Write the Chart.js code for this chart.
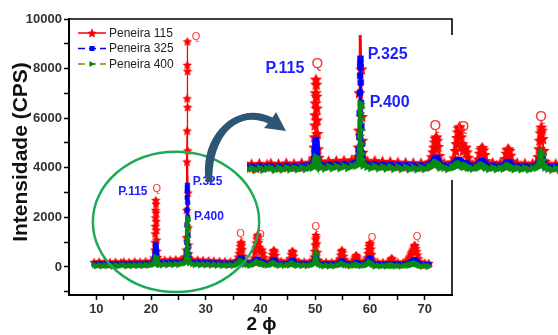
<!DOCTYPE html>
<html lang="pt">
<head>
<meta charset="UTF-8">
<title>DRX - Peneiras 115, 325 e 400</title>
<script src="https://cdn.jsdelivr.net/npm/chart.js"></script>
<style>
  body { margin: 0; background: #fff; }
  #wrap { position: relative; width: 558px; height: 335px; overflow: hidden; }
  #main { position: absolute; left: 0; top: 0; }
  #inset { position: absolute; left: 247px; top: 35px; background: #fff; }
  #arrow { position: absolute; left: 0; top: 0; pointer-events: none; }
</style>
</head>
<body>
<div id="wrap">
  <canvas id="main" width="558" height="335"></canvas>
  <canvas id="inset" width="311" height="145"></canvas>
  <canvas id="arrow" width="558" height="335"></canvas>
</div>
<script>
// 2 theta (graus)
const twoTheta = [
  9.6, 10, 10.5, 11, 11.5, 12, 12.5, 13, 13.5, 14, 14.5, 15, 15.5, 16, 16.5, 17, 17.5, 18, 18.5, 19, 19.5, 20,
  20.4, 20.55, 20.65, 20.7, 20.74, 20.77, 20.8, 20.83, 20.86, 20.89, 20.92, 20.95, 20.98, 21.02, 21.1, 21.2, 21.35,
  21.5, 22, 22.5, 23, 23.5, 24, 24.5, 25, 25.5, 26,
  26.3, 26.4, 26.45, 26.5, 26.55, 26.58, 26.6, 26.62, 26.64, 26.66, 26.68, 26.7, 26.75, 26.8, 26.85, 26.9, 27.0,
  27.5, 28, 28.5, 29, 29.5, 30, 30.5, 31, 31.5, 32, 32.5, 33, 33.5, 34, 34.5, 35, 35.5,
  35.8, 35.95, 36.1, 36.2, 36.3, 36.4, 36.5, 36.6, 36.7, 36.85, 37.0,
  37.5, 38, 38.5,
  38.85, 39.0, 39.1, 39.2, 39.3, 39.4, 39.5, 39.6, 39.7, 39.85, 40.0, 40.15, 40.3, 40.45, 40.6, 40.8,
  41.2, 41.7,
  42.0, 42.15, 42.3, 42.45, 42.6, 42.75, 42.9,
  43.3, 43.8, 44.3, 44.8, 45.2,
  45.45, 45.6, 45.72, 45.85, 45.98, 46.1, 46.25,
  46.6, 47, 47.5, 48, 48.5, 49, 49.5,
  49.75, 49.85, 49.95, 50.05, 50.12, 50.2, 50.3, 50.42, 50.6,
  51, 51.5, 52, 52.5, 53, 53.5, 54,
  54.45, 54.6, 54.75, 54.9, 55.05, 55.2, 55.4,
  55.8, 56.3, 56.8,
  57.15, 57.3, 57.45, 57.6, 57.75, 57.9,
  58.3, 58.8, 59.2,
  59.45, 59.6, 59.72, 59.82, 59.92, 60.0, 60.1, 60.22, 60.35, 60.5,
  60.9, 61.4, 61.9, 62.4, 62.9, 63.3,
  63.65, 63.8, 63.95, 64.1, 64.25,
  64.6, 65.1, 65.6, 66.1, 66.6,
  66.95, 67.15, 67.35, 67.5, 67.65, 67.8, 67.95, 68.05, 68.15, 68.25, 68.4, 68.55, 68.7, 68.9, 69.1,
  69.5, 70, 70.5, 70.8
];

// Intensidade (CPS)
const peneira115 = [
  200, 120, 220, 110, 210, 130, 200, 100, 215, 120, 190, 225, 115, 205, 125, 230, 140, 215, 130, 235, 150, 240,
  230, 380, 700, 1000, 1350, 1650, 2000, 2300, 2700, 2550, 2200, 1850, 1500, 1100, 650, 400, 260,
  270, 180, 290, 190, 300, 200, 310, 210, 320, 330,
  420, 700, 1200, 2300, 4250, 5500, 6800, 8150, 9100, 7900, 6450, 4700, 3000, 1600, 900, 550, 350,
  290, 200, 300, 180, 280, 170, 270, 160, 255, 150, 245, 140, 235, 135, 230, 140, 250,
  280, 420, 560, 700, 850, 960, 1000, 900, 720, 450, 240,
  230, 150, 260,
  380, 600, 800, 980, 1150, 1260, 1300, 1200, 1000, 800, 600, 660, 700, 560, 400, 250,
  170, 250,
  350, 520, 640, 690, 620, 480, 300,
  170, 240, 160, 230, 190,
  360, 520, 620, 650, 600, 460, 290,
  160, 230, 150, 220, 140, 215, 250,
  420, 650, 900, 1120, 1290, 1200, 950, 600, 280,
  200, 130, 210, 125, 200, 130, 230,
  340, 500, 640, 690, 600, 450, 300,
  200, 130, 220,
  320, 420, 480, 450, 380, 260,
  150, 210, 250,
  380, 560, 720, 850, 950, 970, 900, 740, 520, 310,
  140, 200, 130, 195, 125, 190,
  230, 310, 360, 330, 230,
  130, 195, 120, 190, 230,
  300, 380, 460, 550, 620, 660, 740, 830, 890, 860, 760, 640, 500, 350, 220,
  110, 180, 100, 160
];

const peneira325 = [
  130, 80, 140, 75, 135, 85, 130, 70, 140, 80, 125, 140, 75, 135, 85, 145, 90, 140, 85, 150, 100, 155,
  150, 220, 360, 450, 560, 650, 760, 840, 900, 870, 780, 680, 560, 420, 280, 200, 160,
  175, 125, 185, 130, 195, 135, 200, 140, 205, 220,
  260, 420, 620, 1000, 1700, 2300, 2800, 3150, 3300, 3050, 2600, 2000, 1300, 800, 500, 340, 240,
  190, 140, 195, 130, 185, 125, 180, 115, 170, 110, 165, 100, 160, 95, 155, 105, 170,
  180, 220, 260, 300, 340, 370, 380, 350, 290, 220, 150,
  150, 110, 170,
  190, 230, 260, 280, 300, 310, 310, 290, 260, 220, 190, 205, 220, 190, 160, 140,
  115, 150,
  170, 220, 260, 290, 260, 210, 160,
  115, 150, 110, 145, 125,
  160, 210, 240, 260, 240, 200, 150,
  110, 145, 105, 140, 100, 135, 150,
  180, 250, 330, 400, 450, 420, 330, 230, 150,
  125, 90, 130, 85, 125, 90, 140,
  150, 190, 225, 240, 215, 180, 135,
  125, 90, 130,
  135, 160, 175, 165, 145, 120,
  100, 130, 145,
  165, 220, 270, 320, 355, 360, 330, 280, 210, 150,
  95, 125, 90, 120, 85, 115,
  115, 130, 140, 135, 115,
  85, 120, 80, 115, 130,
  130, 155, 180, 200, 220, 240, 260, 280, 290, 285, 260, 230, 190, 150, 115,
  70, 110, 65, 95
];

const peneira400 = [
  75, 35, 85, 30, 80, 40, 75, 25, 85, 35, 70, 85, 30, 80, 40, 90, 45, 85, 45, 95, 55, 100,
  95, 130, 200, 240, 280, 310, 350, 380, 400, 390, 360, 320, 280, 230, 160, 120, 95,
  115, 70, 125, 75, 130, 80, 135, 85, 140, 150,
  170, 280, 400, 650, 1050, 1400, 1700, 1900, 1980, 1850, 1550, 1200, 800, 500, 330, 230, 160,
  125, 85, 130, 75, 120, 70, 115, 60, 110, 55, 105, 50, 100, 45, 95, 55, 110,
  115, 140, 165, 190, 215, 235, 240, 220, 180, 140, 95,
  95, 55, 105,
  115, 135, 155, 170, 185, 195, 200, 185, 165, 140, 120, 135, 150, 125, 100, 85,
  60, 95,
  100, 130, 155, 170, 155, 125, 95,
  55, 90, 50, 85, 65,
  95, 120, 140, 150, 140, 115, 85,
  50, 85, 45, 80, 40, 75, 90,
  120, 220, 360, 480, 560, 480, 330, 190, 100,
  65, 30, 70, 25, 65, 30, 80,
  85, 105, 125, 140, 125, 100, 75,
  65, 30, 70,
  70, 85, 95, 90, 80, 60,
  40, 65, 75,
  90, 115, 140, 165, 185, 190, 175, 145, 115, 80,
  30, 60, 25, 55, 25, 55,
  50, 60, 70, 65, 50,
  25, 55, 20, 50, 60,
  60, 70, 85, 95, 105, 115, 125, 135, 140, 138, 125, 110, 90, 70, 50,
  15, 50, 10, 35
];

const seriesNames = ['Peneira 115', 'Peneira 325', 'Peneira 400'];

// marcas de quartzo (Q) e rótulos das peneiras, em unidades do gráfico
const qX = [21.03, 28.2, 36.35, 40.0, 50.1, 60.4, 68.6];
const qY = [3150, 9290, 1330, 1300, 1600, 1170, 1210];
const pText = ['P.115', 'P.325', 'P.400'];
const pX = [19.35, 27.6, 27.86];
const pY = [3020, 3430, 2020];
const pAlign = ['right', 'left', 'left'];

const xTicks = [10, 15, 20, 25, 30, 35, 40, 45, 50, 55, 60, 65, 70];
const yTicks = [-1000, 0, 1000, 2000, 3000, 4000, 5000, 6000, 7000, 8000, 9000, 10000];

const FONT = 'Arial, "Liberation Sans", sans-serif';
const RED = '#ff0000', BLUE = '#0000ff', GREEN = '#0a8a12';

function makeStar(size, color) {
  const c = document.createElement('canvas');
  c.width = size; c.height = size;
  const g = c.getContext('2d');
  const r = size / 2, ri = r * 0.48;
  g.fillStyle = color;
  g.beginPath();
  for (let i = 0; i < 10; i++) {
    const rad = (i % 2 === 0) ? r : ri;
    const a = -Math.PI / 2 + i * Math.PI / 5;
    const px = r + rad * Math.cos(a), py = r + rad * Math.sin(a) + size * 0.05;
    if (i === 0) g.moveTo(px, py); else g.lineTo(px, py);
  }
  g.closePath();
  g.fill();
  return c;
}

function points(values) {
  return twoTheta.map((t, i) => ({ x: t, y: values[i] }));
}

function buildDatasets(k) {
  return [
    {
      label: seriesNames[0], data: points(peneira115), order: 3,
      borderColor: RED, borderWidth: 1.3 * k,
      pointStyle: makeStar(Math.round(10 * k), RED), pointRadius: 5 * k
    },
    {
      label: seriesNames[1], data: points(peneira325), order: 2,
      borderColor: BLUE, borderWidth: 1.8 * k,
      pointStyle: 'rect', pointRadius: 3.2 * k,
      pointBackgroundColor: BLUE, pointBorderColor: BLUE, pointBorderWidth: 0.5
    },
    {
      label: seriesNames[2], data: points(peneira400), order: 1,
      borderColor: GREEN, borderWidth: 2 * k,
      pointStyle: 'triangle', pointRotation: 90, pointRadius: 3.6 * k,
      pointBackgroundColor: GREEN, pointBorderColor: GREEN, pointBorderWidth: 0.5
    }
  ];
}

function labelPlugin(qSize, pSize) {
  return {
    id: 'peakLabels',
    afterDatasetsDraw(chart) {
      const { ctx, chartArea: a, scales: { x, y } } = chart;
      ctx.save();
      ctx.beginPath();
      ctx.rect(a.left, a.top, a.right - a.left, a.bottom - a.top);
      ctx.clip();
      ctx.textBaseline = 'middle';
      ctx.textAlign = 'center';
      ctx.fillStyle = '#ff3030';
      ctx.font = qSize + 'px ' + FONT;
      qX.forEach((v, i) => ctx.fillText('Q', x.getPixelForValue(v), y.getPixelForValue(qY[i])));
      ctx.fillStyle = '#1e1eff';
      ctx.font = 'bold ' + pSize + 'px ' + FONT;
      pText.forEach((t, i) => {
        ctx.textAlign = pAlign[i];
        ctx.fillText(t, x.getPixelForValue(pX[i]), y.getPixelForValue(pY[i]));
      });
      ctx.restore();
    }
  };
}

// moldura, elipse, legenda e títulos dos eixos
const decorPlugin = {
  id: 'decor',
  afterDatasetsDraw(chart) {
    const { ctx, chartArea: a, scales: { x, y } } = chart;
    ctx.save();
    // elipse verde em volta da região ampliada
    const cx = x.getPixelForValue(24.56), cy = y.getPixelForValue(1818);
    const rx = x.getPixelForValue(24.56 + 15.2) - cx;
    const ry = cy - y.getPixelForValue(1818 + 2830);
    ctx.strokeStyle = '#1faa55';
    ctx.lineWidth = 2.5;
    ctx.beginPath();
    ctx.ellipse(cx, cy, rx, ry, 0, 0, Math.PI * 2);
    ctx.stroke();

    // legenda
    const rows = [33, 48.5, 64];
    ctx.font = '12px ' + FONT;
    ctx.textBaseline = 'middle';
    ctx.textAlign = 'left';
    // Peneira 115
    ctx.strokeStyle = RED; ctx.lineWidth = 1.5; ctx.setLineDash([]);
    ctx.beginPath(); ctx.moveTo(78, rows[0]); ctx.lineTo(106, rows[0]); ctx.stroke();
    ctx.drawImage(makeStar(10, RED), 87, rows[0] - 5);
    // Peneira 325
    ctx.strokeStyle = BLUE; ctx.setLineDash([7, 4]);
    ctx.beginPath(); ctx.moveTo(78, rows[1]); ctx.lineTo(106, rows[1]); ctx.stroke();
    ctx.fillStyle = BLUE; ctx.fillRect(89.5, rows[1] - 2.5, 5, 5);
    // Peneira 400
    ctx.strokeStyle = '#7a8a10'; ctx.setLineDash([7, 4]);
    ctx.beginPath(); ctx.moveTo(78, rows[2]); ctx.lineTo(106, rows[2]); ctx.stroke();
    ctx.setLineDash([]);
    ctx.fillStyle = GREEN;
    ctx.beginPath(); ctx.moveTo(95, rows[2]); ctx.lineTo(89.5, rows[2] - 3); ctx.lineTo(89.5, rows[2] + 3); ctx.closePath(); ctx.fill();
    ctx.fillStyle = '#222';
    seriesNames.forEach((n, i) => ctx.fillText(n, 109, rows[i] + 0.5));

    // moldura superior e direita
    ctx.strokeStyle = '#000'; ctx.lineWidth = 1.6;
    ctx.beginPath();
    ctx.moveTo(a.left, a.top); ctx.lineTo(a.right, a.top); ctx.lineTo(a.right, a.bottom);
    ctx.stroke();

    // títulos dos eixos
    ctx.fillStyle = '#111';
    ctx.font = 'bold 21px ' + FONT;
    ctx.textAlign = 'center';
    ctx.translate(21, (a.top + a.bottom) / 2 - 5);
    ctx.rotate(-Math.PI / 2);
    ctx.fillText('Intensidade (CPS)', 0, 0);
    ctx.restore();

    ctx.save();
    ctx.fillStyle = '#111';
    ctx.font = 'bold 19px ' + FONT;
    ctx.textAlign = 'center';
    ctx.textBaseline = 'middle';
    ctx.fillText('2 \u03d5', (a.left + a.right) / 2 + 1, 325);
    ctx.restore();
  }
};

new Chart(document.getElementById('main'), {
  type: 'line',
  data: { datasets: buildDatasets(1) },
  options: {
    responsive: false,
    animation: false,
    events: [],
    devicePixelRatio: 1,
    layout: { autoPadding: false, padding: { top: 19, right: 106, bottom: 0, left: 0 } },
    plugins: { legend: { display: false }, tooltip: { enabled: false } },
    scales: {
      x: {
        type: 'linear', min: 5, max: 75,
        afterFit(s) { s.height = 40; },
        afterBuildTicks(s) { s.ticks = xTicks.map(v => ({ value: v })); },
        border: { color: '#000', width: 2 },
        grid: { drawOnChartArea: false, tickLength: 5, tickColor: '#000', tickWidth: 1.5 },
        ticks: {
          color: '#333', padding: 2, maxRotation: 0, autoSkip: false,
          font: { family: FONT, size: 13, weight: 'bold' },
          callback: v => (v % 10 === 0 ? v : '')
        }
      },
      y: {
        type: 'linear', min: -1130, max: 10000,
        afterFit(s) { s.width = 69; },
        afterBuildTicks(s) { s.ticks = yTicks.map(v => ({ value: v })); },
        border: { color: '#000', width: 2 },
        grid: { drawOnChartArea: false, tickLength: 5, tickColor: '#000', tickWidth: 1.5 },
        ticks: {
          color: '#333', padding: 2, autoSkip: false,
          font: { family: FONT, size: 13, weight: 'bold' },
          callback: v => (v >= 0 && v % 2000 === 0 ? v : '')
        }
      }
    }
  },
  plugins: [decorPlugin, labelPlugin(11, 12)]
});

// detalhe ampliado
new Chart(document.getElementById('inset'), {
  type: 'line',
  data: { datasets: buildDatasets(1.3) },
  options: {
    responsive: false,
    animation: false,
    events: [],
    devicePixelRatio: 1,
    layout: { autoPadding: false, padding: 0 },
    plugins: { legend: { display: false }, tooltip: { enabled: false } },
    scales: {
      x: { type: 'linear', min: 11.9, max: 52.3, display: false },
      y: { type: 'linear', min: -270, max: 4000, display: false }
    }
  },
  plugins: [labelPlugin(15, 16)]
});

// seta curva
const actx = document.getElementById('arrow').getContext('2d');
actx.fillStyle = '#2d5675';
actx.beginPath();
actx.moveTo(206, 182);
actx.bezierCurveTo(198, 137, 236, 99, 272.5, 117.5);
actx.lineTo(276, 112);
actx.lineTo(286, 131);
actx.lineTo(264, 128);
actx.lineTo(268, 123.5);
actx.bezierCurveTo(236, 109, 211, 139, 212.5, 182);
actx.closePath();
actx.fill();
</script>
</body>
</html>
